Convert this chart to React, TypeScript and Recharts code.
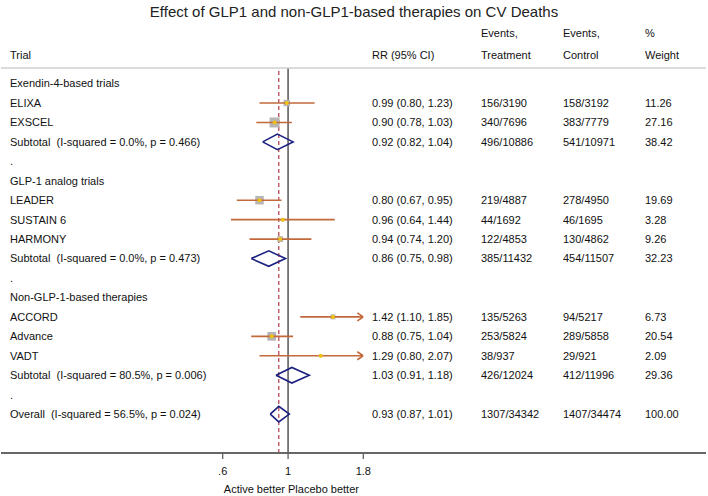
import React from 'react';
import { ComposedChart, Scatter, XAxis, YAxis, ReferenceLine } from 'recharts';

// ---------- data ----------
const rowLabels = [
  'Exendin-4-based trials',
  'ELIXA',
  'EXSCEL',
  'Subtotal  (I-squared = 0.0%, p = 0.466)',
  '.',
  'GLP-1 analog trials',
  'LEADER',
  'SUSTAIN 6',
  'HARMONY',
  'Subtotal  (I-squared = 0.0%, p = 0.473)',
  '.',
  'Non-GLP-1-based therapies',
  'ACCORD',
  'Advance',
  'VADT',
  'Subtotal  (I-squared = 80.5%, p = 0.006)',
  '.',
  'Overall  (I-squared = 56.5%, p = 0.024)',
];
const rowKinds = [
  'group', 'study', 'study', 'pooled', 'spacer',
  'group', 'study', 'study', 'study', 'pooled', 'spacer',
  'group', 'study', 'study', 'study', 'pooled', 'spacer',
  'pooled',
];
const rrEstimate = [null, 0.99, 0.90, 0.92, null, null, 0.80, 0.96, 0.94, 0.86, null, null, 1.42, 0.88, 1.29, 1.03, null, 0.93];
const rrLower = [null, 0.80, 0.78, 0.82, null, null, 0.67, 0.64, 0.74, 0.75, null, null, 1.10, 0.75, 0.80, 0.91, null, 0.87];
const rrUpper = [null, 1.23, 1.03, 1.04, null, null, 0.95, 1.44, 1.20, 0.98, null, null, 1.85, 1.04, 2.07, 1.18, null, 1.01];
const eventsTreatment = [null, '156/3190', '340/7696', '496/10886', null, null, '219/4887', '44/1692', '122/4853', '385/11432', null, null, '135/5263', '253/5824', '38/937', '426/12024', null, '1307/34342'];
const eventsControl = [null, '158/3192', '383/7779', '541/10971', null, null, '278/4950', '46/1695', '130/4862', '454/11507', null, null, '94/5217', '289/5858', '29/921', '412/11996', null, '1407/34474'];
const weights = [null, 11.26, 27.16, 38.42, null, null, 19.69, 3.28, 9.26, 32.23, null, null, 6.73, 20.54, 2.09, 29.36, null, 100.0];
const xTicks = [0.6, 1, 1.8];
const xTickLabels = ['.6', '1', '1.8'];
const overallIndex = 17;

// ---------- layout / style ----------
const W = 708;
const H = 496;
const FONT = '"Liberation Sans", Arial, Helvetica, sans-serif';
const TXT = '#111';
const CI_COLOR = '#c2683a';
const BOX_COLOR = '#b6b6b6';
const DOT_COLOR = '#f0c010';
const DIAMOND_COLOR = '#1b2180';
const DASH_COLOR = '#b23a4a';
const COLS = [372, 481, 563, 645];
const X_MIN = xTicks[0];
const X_MAX = xTicks[xTicks.length - 1];
const DIAMOND_HALF = 0.4;

const rowIdx = rowLabels.map((_, i) => i);
const studyRows = rowIdx.filter((i) => rowKinds[i] === 'study');
const pooledRows = rowIdx.filter((i) => rowKinds[i] === 'pooled');

const boxData = studyRows.map((i) => ({ x: rrEstimate[i], y: i, w: weights[i] }));
const arrowData = studyRows
  .filter((i) => (rrUpper[i] as number) > X_MAX)
  .map((i) => ({ x: X_MAX, y: i }));

const fmt = (v: number) => v.toFixed(2);

const Nothing = () => <g />;

const BoxShape = (p: any) => {
  const s = 1.92 * Math.sqrt(p.payload.w);
  return <rect x={p.cx - s / 2} y={p.cy - s / 2} width={s} height={s} fill={BOX_COLOR} />;
};
const DotShape = (p: any) => <circle cx={p.cx} cy={p.cy} r={2} fill={DOT_COLOR} />;
const ArrowShape = (p: any) => (
  <path
    d={`M${p.cx - 6},${p.cy - 4} L${p.cx},${p.cy} L${p.cx - 6},${p.cy + 4}`}
    fill="none"
    stroke={CI_COLOR}
    strokeWidth={1.6}
  />
);

const LeftTick = (p: any) => {
  const i = p.payload.value;
  return (
    <text x={10} y={p.y} dy="0.35em" fontSize={11} fontFamily={FONT} fill={TXT} style={{ whiteSpace: 'pre' }}>
      {rowLabels[i]}
    </text>
  );
};

const RightTick = (p: any) => {
  const i = p.payload.value;
  if (rrEstimate[i] == null) return <g />;
  const vals = [
    `${fmt(rrEstimate[i] as number)} (${fmt(rrLower[i] as number)}, ${fmt(rrUpper[i] as number)})`,
    eventsTreatment[i] as string,
    eventsControl[i] as string,
    fmt(weights[i] as number),
  ];
  return (
    <g>
      {vals.map((v, k) => (
        <text key={k} x={COLS[k]} y={p.y} dy="0.35em" fontSize={11} fontFamily={FONT} fill={TXT}>
          {v}
        </text>
      ))}
    </g>
  );
};

export default function App() {
  const headerStyle = { fontSize: 11, fontFamily: FONT, fill: TXT } as any;
  return (
    <div style={{ position: 'absolute', left: 0, top: 0, width: W, height: H, background: '#fff' }}>
      <ComposedChart width={W} height={H} margin={{ top: 68, right: 0, bottom: 0, left: 0 }}>
        <XAxis
          type="number"
          dataKey="x"
          scale="log"
          domain={[X_MIN, X_MAX]}
          allowDataOverflow
          ticks={xTicks}
          tickFormatter={(v: number) => xTickLabels[xTicks.indexOf(v)] ?? String(v)}
          axisLine={false}
          tickLine={{ stroke: '#555', strokeWidth: 1.2 }}
          tickSize={6}
          tickMargin={8}
          height={43}
          tick={{ fontSize: 11, fontFamily: FONT, fill: TXT }}
          interval={0}
        />
        <YAxis
          yAxisId="left"
          type="number"
          dataKey="y"
          domain={[-0.8, 19]}
          reversed
          allowDataOverflow
          ticks={rowIdx}
          interval={0}
          width={222.7}
          axisLine={false}
          tickLine={false}
          tick={LeftTick}
        />
        <YAxis
          yAxisId="right"
          orientation="right"
          type="number"
          dataKey="y"
          domain={[-0.8, 19]}
          reversed
          allowDataOverflow
          ticks={rowIdx}
          interval={0}
          width={344.7}
          axisLine={false}
          tickLine={false}
          tick={RightTick}
        />
        <ReferenceLine yAxisId="left" x={1} stroke="#555" strokeWidth={1.5} />
        <ReferenceLine
          yAxisId="left"
          x={rrEstimate[overallIndex] as number}
          stroke={DASH_COLOR}
          strokeWidth={1.2}
          strokeDasharray="4 3"
        />
        <Scatter yAxisId="left" data={boxData} shape={BoxShape} isAnimationActive={false} />
        {studyRows.map((i) => (
          <Scatter
            key={`ci-${i}`}
            yAxisId="left"
            data={[
              { x: rrLower[i], y: i },
              { x: Math.min(rrUpper[i] as number, X_MAX), y: i },
            ]}
            line={{ stroke: CI_COLOR, strokeWidth: 1.6 }}
            shape={Nothing}
            isAnimationActive={false}
          />
        ))}
        <Scatter yAxisId="left" data={arrowData} shape={ArrowShape} isAnimationActive={false} />
        <Scatter yAxisId="left" data={boxData} shape={DotShape} isAnimationActive={false} />
        {pooledRows.map((i) => (
          <Scatter
            key={`dm-${i}`}
            yAxisId="left"
            data={[
              { x: rrLower[i], y: i },
              { x: rrEstimate[i], y: i - DIAMOND_HALF },
              { x: rrUpper[i], y: i },
              { x: rrEstimate[i], y: i + DIAMOND_HALF },
              { x: rrLower[i], y: i },
            ]}
            line={{ stroke: DIAMOND_COLOR, strokeWidth: 1.6, strokeLinejoin: 'miter' }}
            shape={Nothing}
            isAnimationActive={false}
          />
        ))}
      </ComposedChart>
      <svg width={W} height={H} style={{ position: 'absolute', left: 0, top: 0, pointerEvents: 'none' }}>
        <text x={354} y={12} dy="0.35em" textAnchor="middle" fontSize={15} fontFamily={FONT} fill="#222">
          Effect of GLP1 and non-GLP1-based therapies on CV Deaths
        </text>
        <text x={10} y={55} dy="0.35em" style={headerStyle}>Trial</text>
        <text x={COLS[0]} y={55} dy="0.35em" style={headerStyle}>RR (95% CI)</text>
        <text x={COLS[1]} y={33} dy="0.35em" style={headerStyle}>Events,</text>
        <text x={COLS[1]} y={55} dy="0.35em" style={headerStyle}>Treatment</text>
        <text x={COLS[2]} y={33} dy="0.35em" style={headerStyle}>Events,</text>
        <text x={COLS[2]} y={55} dy="0.35em" style={headerStyle}>Control</text>
        <text x={COLS[3]} y={33} dy="0.35em" style={headerStyle}>%</text>
        <text x={COLS[3]} y={55} dy="0.35em" style={headerStyle}>Weight</text>
        <line x1={1} x2={706} y1={68} y2={68} stroke="#cfcfcf" strokeWidth={1.6} />
        <line x1={1} x2={706} y1={453} y2={453} stroke="#666" strokeWidth={1.8} />
        <text x={285} y={489} dy="0.35em" textAnchor="end" style={headerStyle}>Active better</text>
        <text x={288} y={489} dy="0.35em" style={headerStyle}>Placebo better</text>
      </svg>
    </div>
  );
}
